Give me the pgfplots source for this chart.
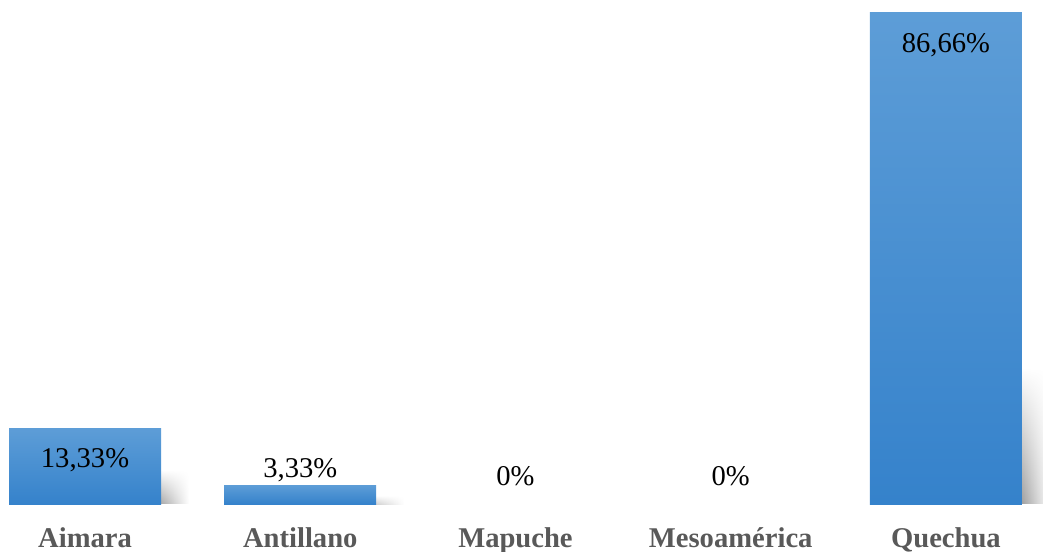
\documentclass[border=0pt]{standalone}
\usepackage{pgfplots}
\pgfplotsset{compat=1.18}
\usetikzlibrary{fadings}
\usepackage{fontspec}
\setmainfont{Liberation Serif}
\definecolor{bartop}{HTML}{5D9DD7}
\definecolor{barbot}{HTML}{3582CB}
\definecolor{catgray}{HTML}{595959}
\begin{document}
\fontsize{14.3}{16}\selectfont
\begin{tikzpicture}
\begin{axis}[
  at={(0,0)}, anchor=south west,
  scale only axis,
  width=521.5pt, height=252pt,
  xmin=-0.395, xmax=4.451,
  ymin=0, ymax=88.95,
  axis line style={draw=none},
  major tick length=0pt,
  xtick={0,1,2,3,4},
  xticklabels={Aimara,Antillano,Mapuche,Mesoamérica,Quechua},
  ytick=\empty,
  clip=false,
  xticklabel style={font=\fontsize{14.3}{16}\selectfont\bfseries, text=catgray, anchor=base, yshift=-21.5pt},
  every node near coord/.style={anchor=center, font=\fontsize{14.3}{16}\selectfont, text=black},
  bar/.style={ybar, bar width=76pt, draw=none, top color=bartop, bottom color=barbot},
  shad/.style={ybar, bar width=16pt, bar shift=44pt, draw=none, left color=black!#1, right color=white, path fading=north},
]
% soft shadows to the right of the bars
\addplot[shad=38] coordinates {(0,6)};
\addplot[shad=20] coordinates {(1,1.5)};
\addplot[shad=42] coordinates {(4,24)};
% bars
\addplot[bar] coordinates {(0,13.33)};
\addplot[bar] coordinates {(1,3.33)};
\addplot[bar] coordinates {(4,86.66)};
\addplot[draw=none, mark=none, nodes near coords, point meta=explicit symbolic]
  table[meta=label] {
x y label
0 7.77 13,33\%
1 6.0 3,33\%
2 4.94 0\%
3 4.94 0\%
4 81.0 86,66\%
};
\end{axis}
\pgfresetboundingbox
\path[use as bounding box] (0,-23.5pt) rectangle (521.5pt,252pt);
\end{tikzpicture}
\end{document}
